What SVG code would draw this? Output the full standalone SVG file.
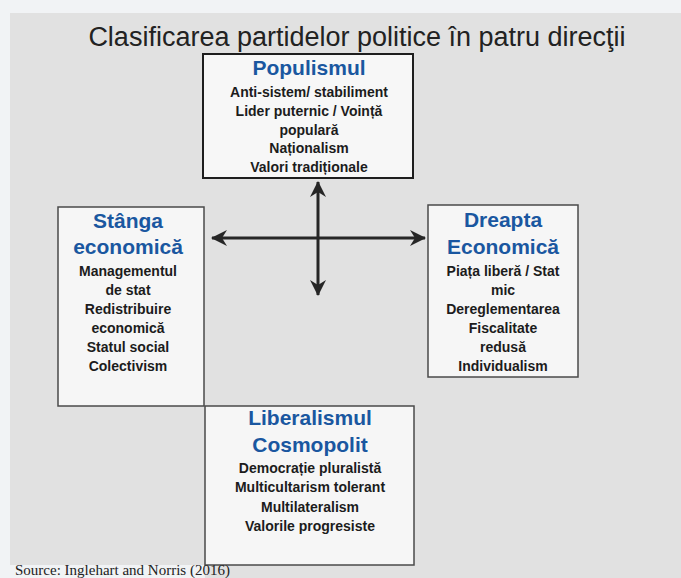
<svg xmlns="http://www.w3.org/2000/svg" width="681" height="578" viewBox="0 0 681 578">
  <style>
    .box { fill: #f6f6f6; stroke: #4a4a4a; stroke-width: 1.5; }
    .boxTop { fill: #f7f7f7; stroke: #1e1e1e; stroke-width: 2; }
    .head { font-family: "Liberation Sans", Arial, sans-serif; font-weight: bold; font-size: 21px; fill: #1a57a0; text-anchor: middle; }
    .item { font-family: "Liberation Sans", Arial, sans-serif; font-weight: bold; font-size: 14px; fill: #1c1c1c; text-anchor: middle; }
    .conn { stroke: #262626; stroke-width: 3; fill: none; }
  </style>
  <defs>
    <marker id="arr" markerUnits="userSpaceOnUse" viewBox="0 0 16 16" refX="15" refY="8" markerWidth="16" markerHeight="16" orient="auto-start-reverse">
      <path d="M0,0 L16,8 L0,16 L5,8 z" fill="#262626"/>
    </marker>
  </defs>

  <rect x="0" y="0" width="681" height="578" fill="#f1f3f5"/>
  <rect x="10" y="13" width="671" height="565" fill="#e1e1e1"/>
  <rect x="0" y="565" width="205" height="13" fill="#f1f3f5"/>

  <text x="357" y="46" font-family="'Liberation Sans', Arial, sans-serif" font-size="27" fill="#222" text-anchor="middle">Clasificarea partidelor politice în patru direcţii</text>

  <g id="connectors">
    <line class="conn" x1="212" y1="238" x2="425" y2="238" marker-start="url(#arr)" marker-end="url(#arr)"/>
    <line class="conn" x1="318" y1="182" x2="318" y2="295" marker-start="url(#arr)" marker-end="url(#arr)"/>
  </g>

  <g id="populismul">
    <rect class="boxTop" x="203" y="54" width="210" height="124"/>
    <text class="head" x="309" y="75">Populismul</text>
    <text class="item" x="309" y="97">Anti-sistem/ stabiliment</text>
    <text class="item" x="309" y="116">Lider puternic / Voință</text>
    <text class="item" x="309" y="135">populară</text>
    <text class="item" x="309" y="153">Naționalism</text>
    <text class="item" x="309" y="172">Valori tradiționale</text>
  </g>

  <g id="stanga">
    <rect class="box" x="58" y="207" width="146" height="199"/>
    <text class="head" x="128" y="228">Stânga</text>
    <text class="head" x="128" y="254">economică</text>
    <text class="item" x="128" y="276">Managementul</text>
    <text class="item" x="128" y="295">de stat</text>
    <text class="item" x="128" y="314">Redistribuire</text>
    <text class="item" x="128" y="333">economică</text>
    <text class="item" x="128" y="352">Statul social</text>
    <text class="item" x="128" y="371">Colectivism</text>
  </g>

  <g id="dreapta">
    <rect class="box" x="428" y="205" width="150" height="172"/>
    <text class="head" x="503" y="227">Dreapta</text>
    <text class="head" x="503" y="254">Economică</text>
    <text class="item" x="503" y="276">Piața liberă / Stat</text>
    <text class="item" x="503" y="295">mic</text>
    <text class="item" x="503" y="314">Dereglementarea</text>
    <text class="item" x="503" y="333">Fiscalitate</text>
    <text class="item" x="503" y="352">redusă</text>
    <text class="item" x="503" y="371">Individualism</text>
  </g>

  <g id="liberalismul">
    <rect class="box" x="205" y="406" width="209" height="159"/>
    <text class="head" x="310" y="425">Liberalismul</text>
    <text class="head" x="310" y="452">Cosmopolit</text>
    <text class="item" x="310" y="473">Democrație pluralistă</text>
    <text class="item" x="310" y="492">Multicultarism tolerant</text>
    <text class="item" x="310" y="512">Multilateralism</text>
    <text class="item" x="310" y="531">Valorile progresiste</text>
  </g>

  <text x="15" y="575" font-family="'Liberation Serif', 'Times New Roman', serif" font-size="15" fill="#222">Source: Inglehart and Norris (2016)</text>
</svg>
